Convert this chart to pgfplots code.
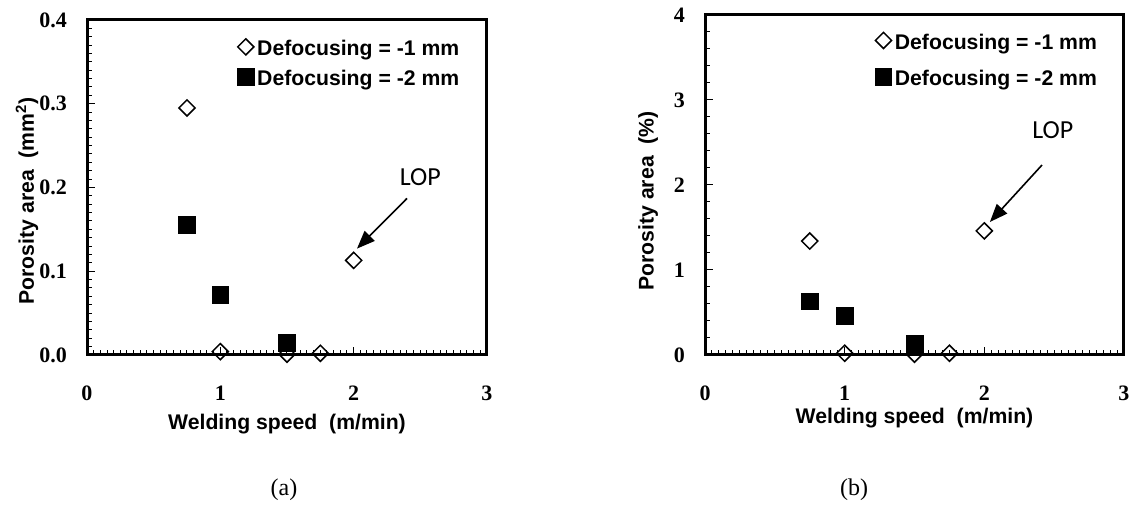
\documentclass[border=0pt]{standalone}
\usepackage{fontspec}
\setmainfont{Liberation Serif}
\newfontfamily\arialf{Liberation Sans}
\newfontfamily\calib{Carlito}
\usepackage{pgfplots}
\pgfplotsset{compat=1.18}
\usetikzlibrary{arrows.meta}

\pgfplotstableread{
x y
0.75 0.295
1.00 0.004
1.50 0.001
1.75 0.002
2.00 0.113
}\leftone
\pgfplotstableread{
x y
0.75 0.155
1.00 0.072
1.50 0.014
}\lefttwo
\pgfplotstableread{
x y
0.75 1.34
1.00 0.02
1.50 0.01
1.75 0.02
2.00 1.46
}\rightone
\pgfplotstableread{
x y
0.75 0.63
1.00 0.46
1.50 0.13
}\righttwo

\pgfplotsset{mystyle/.style={
  scale only axis,
  axis line style={line width=1.5pt},
  tick align=inside,
  xtick pos=bottom, ytick pos=left,
  major tick length=4pt, minor tick length=2.5pt,
  every tick/.style={black, line width=0.5pt},
  xmin=0,xmax=3,xtick={0,1,2,3},minor x tick num=19,
  tick label style={font=\fontsize{11}{12}\selectfont\bfseries},
  /pgf/number format/assume math mode=true,
  xticklabel style={yshift=-12pt},
  yticklabel style={xshift=-6.5pt},
  label style={font=\arialf\fontsize{10.6}{12}\selectfont\bfseries},
  legend style={draw=none, fill=none, inner sep=0pt,
    font=\arialf\fontsize{10.6}{12}\selectfont\bfseries,
    nodes={inner sep=1.5pt}, row sep=3pt},
  legend cell align=left,
  legend image code/.code={\draw[##1] plot coordinates {(0pt,1.2pt)};},
  clip=false,
}}
\tikzset{
  dia/.style={only marks, mark=square, mark size=2.85pt, mark options={rotate=45, fill=white, draw=black, line width=0.75pt}},
  sq/.style={only marks, mark=square*, mark size=4.2pt, mark options={fill=black, draw=black}},
}

\begin{document}
\begin{tikzpicture}
\path[use as bounding box] (0,0) rectangle (566pt,256pt);

\begin{axis}[mystyle,
  at={(43.5pt,78.5pt)}, anchor=south west,
  width=200pt, height=167.5pt,
  ymin=0, ymax=0.4, ytick={0,0.1,0.2,0.3,0.4}, minor y tick num=9,
  yticklabel style={/pgf/number format/.cd, fixed, fixed zerofill, precision=1},
  xlabel={Welding speed\ \ (m/min)},
  ylabel={Porosity area\ \ (mm\textsuperscript{2})},
  xlabel style={at={(axis description cs:0.5,0)}, anchor=north, yshift=-26pt},
  ylabel style={at={(axis description cs:-0.15,0.46)}, anchor=center},
  legend style={at={(axis description cs:0.375,0.95)}, anchor=north west},
]
\addplot[dia] table {\leftone};
\addlegendentry{Defocusing = -1 mm}
\addplot[sq] table {\lefttwo};
\addlegendentry{Defocusing = -2 mm}
\node[font=\calib\fontsize{13}{15}\selectfont] at (axis cs:2.5,0.212) {LOP};
\draw[line width=0.8pt, -{Triangle[length=9pt,width=7pt]}] (axis cs:2.4,0.187) -- (axis cs:2.025,0.127);
\end{axis}

\begin{axis}[mystyle,
  at={(352.5pt,78.5pt)}, anchor=south west,
  width=209.5pt, height=170pt,
  ymin=0, ymax=4, ytick={0,1,2,3,4}, minor y tick num=4,
  xlabel={Welding speed\ \ (m/min)},
  ylabel={Porosity area\ \ (\%)},
  xlabel style={at={(axis description cs:0.5,0)}, anchor=north, yshift=-23pt},
  ylabel style={at={(axis description cs:-0.136,0.453)}, anchor=center},
  legend style={at={(axis description cs:0.405,0.955)}, anchor=north west, row sep=6pt},
]
\addplot[dia] table {\rightone};
\addlegendentry{Defocusing = -1 mm}
\addplot[sq] table {\righttwo};
\addlegendentry{Defocusing = -2 mm}
\node[font=\calib\fontsize{13}{15}\selectfont] at (axis cs:2.49,2.65) {LOP};
\draw[line width=0.8pt, -{Triangle[length=9pt,width=7pt]}] (axis cs:2.413,2.235) -- (axis cs:2.04,1.565);
\end{axis}

\node[font=\fontsize{12}{14}\selectfont] at (142pt,11pt) {(a)};
\node[font=\fontsize{12}{14}\selectfont] at (427pt,11pt) {(b)};
\end{tikzpicture}
\end{document}
